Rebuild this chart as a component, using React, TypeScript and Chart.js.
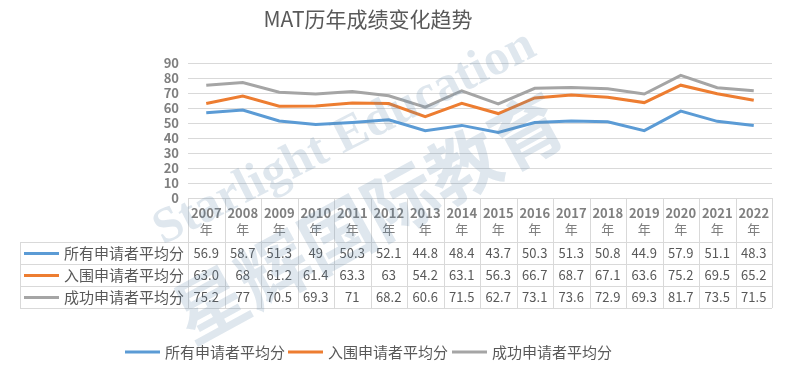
import React, { useEffect, useRef } from "react";
import { Chart, registerables } from "chart.js";

Chart.register(...registerables);

const years = ["2007", "2008", "2009", "2010", "2011", "2012", "2013", "2014", "2015", "2016", "2017", "2018", "2019", "2020", "2021", "2022"];
const seriesNames = ["所有申请者平均分", "入围申请者平均分", "成功申请者平均分"];
const allApplicants = ["56.9", "58.7", "51.3", "49", "50.3", "52.1", "44.8", "48.4", "43.7", "50.3", "51.3", "50.8", "44.9", "57.9", "51.1", "48.3"];
const shortlisted = ["63.0", "68", "61.2", "61.4", "63.3", "63", "54.2", "63.1", "56.3", "66.7", "68.7", "67.1", "63.6", "75.2", "69.5", "65.2"];
const successful = ["75.2", "77", "70.5", "69.3", "71", "68.2", "60.6", "71.5", "62.7", "73.1", "73.6", "72.9", "69.3", "81.7", "73.5", "71.5"];
const colors = ["#5B9BD5", "#ED7D31", "#A5A5A5"];
const titleText = "MAT历年成绩变化趋势";
const yearSuffix = "年";
const watermarkEn = "Starlight Education";
const watermarkZh = "星辉国际教育";

const FONT = "'Noto Sans CJK SC', 'DejaVu Sans', sans-serif";
const tableRows = [allApplicants, shortlisted, successful];

const tablePlugin = {
  id: "tableAndExtras",
  afterDraw(chart: any) {
    const ctx = chart.ctx as CanvasRenderingContext2D;
    const area = chart.chartArea;
    const xs = chart.scales.x;
    const n = years.length;
    const colW = (area.right - area.left) / n;
    const top = area.bottom;
    const headerBottom = top + 44;
    const rowH = 22;
    const tableLeft = 20;
    const gridColor = "#d9d9d9";

    ctx.save();
    // title
    ctx.fillStyle = "#595959";
    ctx.font = `21px ${FONT}`;
    ctx.textAlign = "center";
    ctx.textBaseline = "middle";
    ctx.fillText(titleText, 368, 19);

    // table grid
    ctx.strokeStyle = gridColor;
    ctx.lineWidth = 1;
    ctx.beginPath();
    ctx.moveTo(area.left, top + 0.5);
    ctx.lineTo(area.right, top + 0.5);
    for (let r = 0; r <= 3; r++) {
      const y = Math.round(headerBottom + r * rowH) + 0.5;
      ctx.moveTo(tableLeft, y);
      ctx.lineTo(area.right, y);
    }
    for (let k = 0; k <= n; k++) {
      const x = Math.round(area.left + k * colW) + 0.5;
      ctx.moveTo(x, top);
      ctx.lineTo(x, headerBottom + 3 * rowH);
    }
    ctx.moveTo(tableLeft + 0.5, headerBottom);
    ctx.lineTo(tableLeft + 0.5, headerBottom + 3 * rowH);
    ctx.stroke();

    // header
    ctx.textAlign = "center";
    ctx.textBaseline = "middle";
    years.forEach((yr, i) => {
      const cx = xs.getPixelForValue(i);
      ctx.fillStyle = "#7f7f7f";
      ctx.font = `bold 13px ${FONT}`;
      ctx.fillText(yr, cx, top + 15);
      ctx.font = `13px ${FONT}`;
      ctx.fillText(yearSuffix, cx, top + 31);
    });

    // rows
    tableRows.forEach((row, r) => {
      const cy = headerBottom + r * rowH + rowH / 2 + 0.5;
      ctx.strokeStyle = colors[r];
      ctx.lineWidth = 3;
      ctx.beginPath();
      ctx.moveTo(24, cy);
      ctx.lineTo(59, cy);
      ctx.stroke();
      ctx.fillStyle = "#595959";
      ctx.font = `15px ${FONT}`;
      ctx.textAlign = "left";
      ctx.fillText(seriesNames[r], 64, cy);
      ctx.textAlign = "center";
      ctx.font = `13px ${FONT}`;
      row.forEach((v, i) => {
        ctx.fillText(v, xs.getPixelForValue(i), cy);
      });
    });

    // bottom legend
    const legendY = 352;
    const legendX = [125, 288, 452];
    seriesNames.forEach((name, i) => {
      ctx.strokeStyle = colors[i];
      ctx.lineWidth = 3;
      ctx.beginPath();
      ctx.moveTo(legendX[i], legendY);
      ctx.lineTo(legendX[i] + 35, legendY);
      ctx.stroke();
      ctx.fillStyle = "#595959";
      ctx.font = `15px ${FONT}`;
      ctx.textAlign = "left";
      ctx.textBaseline = "middle";
      ctx.fillText(name, legendX[i] + 40, legendY);
    });

    // watermark
    ctx.globalAlpha = 0.2;
    ctx.fillStyle = "#5f86a8";
    ctx.translate(163, 245);
    ctx.rotate(-0.47);
    ctx.font = `bold 50px 'Liberation Serif', serif`;
    ctx.textAlign = "left";
    ctx.textBaseline = "alphabetic";
    ctx.fillText(watermarkEn, 0, 0);
    ctx.setTransform(1, 0, 0, 1, 0, 0);
    ctx.translate(192, 345);
    ctx.rotate(-0.5);
    ctx.font = `bold 72px ${FONT}`;
    ctx.fillText(watermarkZh, 0, 0);
    ctx.restore();
  },
};

export default function App() {
  const canvasRef = useRef<HTMLCanvasElement | null>(null);

  useEffect(() => {
    if (!canvasRef.current) return;
    const series = [allApplicants, shortlisted, successful];
    const chart = new Chart(canvasRef.current, {
      type: "line",
      data: {
        labels: years,
        datasets: series.map((s, i) => ({
          label: seriesNames[i],
          data: s.map(Number),
          borderColor: colors[i],
          backgroundColor: colors[i],
          borderWidth: 3,
          pointRadius: 0,
          tension: 0,
        })),
      },
      options: {
        responsive: false,
        animation: false,
        layout: { padding: { top: 63, right: 25, bottom: 167, left: 0 } },
        plugins: {
          legend: { display: false },
          title: { display: false },
          tooltip: { enabled: false },
        },
        scales: {
          x: { display: false, offset: true },
          y: {
            min: 0,
            max: 90,
            ticks: {
              stepSize: 10,
              autoSkip: false,
              color: "#7f7f7f",
              font: { family: FONT, size: 13, weight: "bold" },
              padding: 9,
            },
            grid: { color: "#d9d9d9", drawTicks: false },
            border: { display: false },
            afterFit: (s: any) => {
              s.width = 188;
            },
          },
        },
      },
      plugins: [tablePlugin],
    });
    return () => chart.destroy();
  }, []);

  return (
    <div style={{ position: "absolute", left: 0, top: 0, width: 797, height: 365, background: "#fff" }}>
      <canvas ref={canvasRef} width={797} height={365} style={{ display: "block" }} />
    </div>
  );
}
